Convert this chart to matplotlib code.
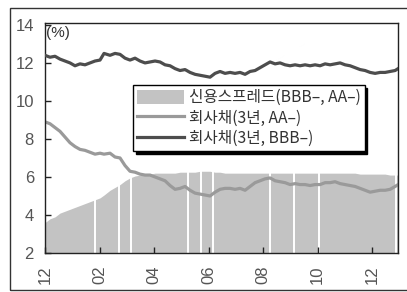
import numpy as np
import matplotlib
matplotlib.use("Agg")
import matplotlib.pyplot as plt
from matplotlib.patches import Rectangle

# ---- data (x in months from the first "12" tick) ----
px_per_month = 27.25
bbb_px = [45,50,55,60,65,70,75,80,85,90,95,100,104,110,115,120,125,130,135,140,145,150,155,160,165,170,175,180,185,190,195,200,205,210,215,220,225,230,235,240,245,250,255,260,265,270,275,280,285,290,295,300,305,310,315,320,325,330,335,340,345,350,355,360,365,370,375,380,385,390,395,398]
bbb_val = [12.4,12.3,12.35,12.2,12.1,12.0,11.85,11.95,11.9,12.0,12.1,12.15,12.5,12.4,12.5,12.45,12.25,12.15,12.25,12.1,12.0,12.05,12.1,12.05,11.9,11.85,11.7,11.6,11.65,11.5,11.4,11.35,11.3,11.25,11.45,11.55,11.45,11.5,11.45,11.5,11.4,11.55,11.6,11.75,11.9,12.05,11.95,12.0,11.9,11.85,11.9,11.85,11.9,11.85,11.9,11.85,11.95,11.9,11.95,12.0,11.9,11.85,11.75,11.65,11.6,11.5,11.45,11.5,11.5,11.55,11.6,11.7]
aa_val = [8.9,8.8,8.6,8.4,8.1,7.8,7.6,7.45,7.4,7.3,7.2,7.25,7.2,7.25,7.05,7.0,6.6,6.3,6.25,6.15,6.1,6.1,6.0,5.9,5.8,5.55,5.35,5.4,5.5,5.3,5.15,5.1,5.05,5.0,5.2,5.35,5.4,5.4,5.35,5.4,5.3,5.5,5.7,5.8,5.9,5.95,5.8,5.75,5.7,5.6,5.65,5.6,5.6,5.55,5.6,5.6,5.7,5.7,5.75,5.65,5.6,5.55,5.5,5.4,5.3,5.2,5.25,5.3,5.3,5.35,5.5,5.6]
spread_val = [3.6,3.8,3.9,4.1,4.2,4.3,4.4,4.5,4.6,4.7,4.8,4.9,5.05,5.3,5.45,5.6,5.8,5.95,6.05,6.1,6.15,6.15,6.2,6.2,6.2,6.2,6.2,6.25,6.25,6.25,6.25,6.3,6.3,6.3,6.25,6.25,6.2,6.2,6.2,6.2,6.2,6.2,6.2,6.2,6.2,6.2,6.2,6.2,6.2,6.2,6.2,6.2,6.2,6.2,6.2,6.2,6.2,6.2,6.2,6.2,6.2,6.2,6.2,6.15,6.15,6.15,6.15,6.15,6.15,6.1,6.1,6.1]
gap_months = [1.83, 2.72, 3.16, 5.25, 5.72, 6.17, 8.26, 9.14, 10.06, 12.88]
tick_pos = [0, 2, 4, 6, 8, 10, 12]
tick_labels = ["12", "02", "04", "06", "08", "10", "12"]
y_ticks = [2, 4, 6, 8, 10, 12, 14]
labels = ["신용스프레드(BBB–, AA–)", "회사채(3년, AA–)", "회사채(3년, BBB–)"]

x = (np.array(bbb_px) - 45) / px_per_month

plt.rcParams['font.family'] = ['Liberation Sans', 'Noto Sans CJK KR', 'DejaVu Sans']

fig = plt.figure(figsize=(4.07, 2.92), dpi=100)
ax = fig.add_axes([45/407, 1-253/292, (398-45)/407, (253-23)/292])

fill_c = '#c3c3c3'
ax.fill_between(x, 2, spread_val, color=fill_c, lw=0, label=labels[0], zorder=1)
sp_at_gap = np.interp(gap_months, x, spread_val)
ax.vlines(gap_months, 2, sp_at_gap, colors='white', lw=1.4, zorder=1.5)
ax.plot(x, aa_val, color='#9a9a9a', lw=2.3, label=labels[1], zorder=2)
ax.plot(x, bbb_val, color='#4d4d4d', lw=2.3, label=labels[2], zorder=3)

ax.set_xlim(0, 12.95)
ax.set_ylim(2, 14.1)
ax.set_xticks(tick_pos)
ax.set_xticklabels(tick_labels, rotation=90)
ax.set_yticks(y_ticks)
ax.tick_params(direction='in', length=4, width=1, colors='#222222', labelcolor='#555555', labelsize=12)
ax.tick_params(axis='y', pad=8)
ax.tick_params(axis='x', pad=9)
for s in ax.spines.values():
    s.set_color('#222222')
    s.set_linewidth(1.0)

ax.text(0.004, 0.985, "(%)", transform=ax.transAxes, ha='left', va='top',
        fontsize=11, color='#333333')

leg = ax.legend(loc='upper left', bbox_to_anchor=((133-45)/353, 1-(85-23)/230),
                frameon=True, fancybox=False, shadow={'color': 'black', 'alpha': 1},
                handlelength=3.0, handleheight=1.0, labelspacing=0.22,
                borderpad=0.25, handletextpad=0.3, borderaxespad=0,
                prop={'family': ['Noto Sans CJK KR', 'DejaVu Sans'], 'size': 11.3})
leg.get_frame().set_edgecolor('black')
leg.get_frame().set_linewidth(1.0)
leg.set_zorder(5)
for t in leg.get_texts():
    t.set_color('#333333')

fig.add_artist(Rectangle((10/407, 2/292), 1.0, (290-8)/292, transform=fig.transFigure,
                         fill=False, edgecolor='#333333', lw=1.0))

fig.savefig('out.png', dpi=100)
